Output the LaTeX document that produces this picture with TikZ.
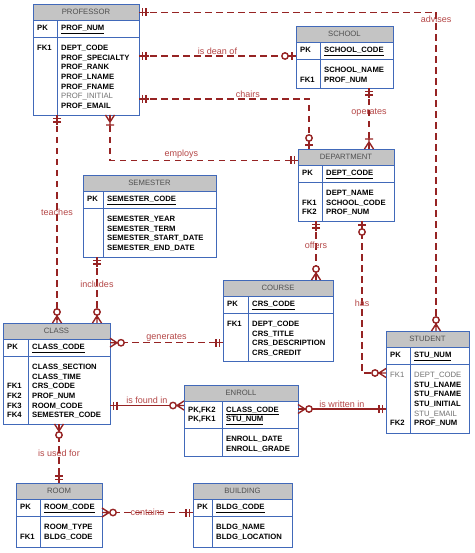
\documentclass[tikz,border=0pt]{standalone}
\usepackage{fontspec}
\setmainfont{Liberation Sans}
\usetikzlibrary{arrows,positioning}
\definecolor{erred}{RGB}{150,35,35}
\definecolor{erlabel}{RGB}{180,70,70}
\definecolor{erblue}{RGB}{65,105,185}
\definecolor{ergray}{RGB}{196,196,196}
\definecolor{ertitle}{RGB}{80,80,80}
\tikzstyle{erhead}=[draw=erblue,line width=0.9pt,fill=ergray,anchor=north west,minimum height=16.5,inner sep=0pt,outer sep=0pt,text=ertitle,font=\fontsize{7.7}{9.7}\selectfont]
\tikzstyle{erpart}=[draw=erblue,line width=0.9pt,fill=white,inner sep=0pt,outer sep=0pt]
\tikzstyle{erline}=[draw=erblue,line width=0.9pt]
\tikzstyle{ertext}=[inner sep=0pt,font=\fontsize{7.7}{9.7}\selectfont\bfseries]
\tikzstyle{rel}=[draw=erred,line width=1.4pt,dash pattern=on 6.5pt off 4.5pt]
\tikzstyle{idrel}=[draw=erred,line width=1.4pt]
\tikzstyle{verb}=[text=erlabel,font=\fontsize{9}{10}\selectfont,inner sep=1pt]
% crow's foot ends
\pgfarrowsdeclare{erone}{erone}
{\pgfarrowsleftextend{-10pt}\pgfarrowsrightextend{0pt}}
{\pgfsetdash{}{0pt}\pgfsetbuttcap
 \pgfpathmoveto{\pgfpoint{-10pt}{0pt}}\pgfpathlineto{\pgforigin}
 \pgfpathmoveto{\pgfpoint{-3.5pt}{-4pt}}\pgfpathlineto{\pgfpoint{-3.5pt}{4pt}}
 \pgfpathmoveto{\pgfpoint{-7pt}{-4pt}}\pgfpathlineto{\pgfpoint{-7pt}{4pt}}
 \pgfusepathqstroke}
\pgfarrowsdeclare{erzeroone}{erzeroone}
{\pgfarrowsleftextend{-15pt}\pgfarrowsrightextend{0pt}}
{\pgfsetdash{}{0pt}\pgfsetbuttcap
 \pgfpathmoveto{\pgfpoint{-8pt}{0pt}}\pgfpathlineto{\pgforigin}
 \pgfpathmoveto{\pgfpoint{-4pt}{-4pt}}\pgfpathlineto{\pgfpoint{-4pt}{4pt}}
 \pgfusepathqstroke
 \pgfsetfillcolor{white}
 \pgfpathcircle{\pgfpoint{-11pt}{0pt}}{3.2pt}
 \pgfusepathqfillstroke}
\pgfarrowsdeclare{eronemany}{eronemany}
{\pgfarrowsleftextend{-12pt}\pgfarrowsrightextend{0pt}}
{\pgfsetdash{}{0pt}\pgfsetbuttcap
 \pgfpathmoveto{\pgfpoint{-12pt}{0pt}}\pgfpathlineto{\pgforigin}
 \pgfpathmoveto{\pgfpoint{0pt}{4.5pt}}\pgfpathlineto{\pgfpoint{-7pt}{0pt}}\pgfpathlineto{\pgfpoint{0pt}{-4.5pt}}
 \pgfpathmoveto{\pgfpoint{-10pt}{-4pt}}\pgfpathlineto{\pgfpoint{-10pt}{4pt}}
 \pgfusepathqstroke}
\pgfarrowsdeclare{erzeromany}{erzeromany}
{\pgfarrowsleftextend{-15pt}\pgfarrowsrightextend{0pt}}
{\pgfsetdash{}{0pt}\pgfsetbuttcap
 \pgfpathmoveto{\pgfpoint{-8pt}{0pt}}\pgfpathlineto{\pgforigin}
 \pgfpathmoveto{\pgfpoint{0pt}{4.5pt}}\pgfpathlineto{\pgfpoint{-7pt}{0pt}}\pgfpathlineto{\pgfpoint{0pt}{-4.5pt}}
 \pgfusepathqstroke
 \pgfsetfillcolor{white}
 \pgfpathcircle{\pgfpoint{-11pt}{0pt}}{3.2pt}
 \pgfusepathqfillstroke}
\newcommand{\faded}[1]{\textcolor{ertitle!80}{\mdseries #1}}
\newcommand{\ertab}[2]{\begin{tabular}{@{}p{\dimexpr#1-4pt\relax}@{\hspace{4pt}}l@{}}#2\end{tabular}}
% name, position, width, key column, title, key height, body height, keys, attributes
\newcommand{\erentity}[9]{%
  \node[erhead,minimum width=#3] (#1-h) at #2 {#5};
  \node[erpart,minimum width=#3,minimum height=#6,below=0pt of #1-h] (#1-pk) {};
  \node[erpart,minimum width=#3,minimum height=#7,below=0pt of #1-pk] (#1-at) {};
  \draw[erline] ([xshift=#4]#1-pk.north west) -- ([xshift=#4]#1-at.south west);
  \node[ertext,anchor=west] at ([xshift=4pt]#1-pk.west) {\ertab{#4}{#8}};
  \node[ertext,anchor=north west] at ([xshift=4pt,yshift=-6.5pt]#1-at.north west) {\ertab{#4}{#9}};
}
\begin{document}
\begin{tikzpicture}[x=1pt,y=-1pt]
    \useasboundingbox (0,0) rectangle (474,553);
    % The entities
    \erentity{prof}{(33,4)}{106}{24pt}{PROFESSOR}{16.5}{78}
      {PK & \underline{PROF\_NUM}}
      {FK1 & DEPT\_CODE\\ & PROF\_SPECIALTY\\ & PROF\_RANK\\ & PROF\_LNAME\\ & PROF\_FNAME\\ & \faded{PROF\_INITIAL}\\ & PROF\_EMAIL}
    \erentity{sch}{(296,26)}{97}{24pt}{SCHOOL}{16.5}{29}
      {PK & \underline{SCHOOL\_CODE}}
      { & SCHOOL\_NAME\\ FK1 & PROF\_NUM}
    \erentity{dept}{(298,149)}{96}{24pt}{DEPARTMENT}{16.5}{39}
      {PK & \underline{DEPT\_CODE}}
      { & DEPT\_NAME\\ FK1 & SCHOOL\_CODE\\ FK2 & PROF\_NUM}
    \erentity{sem}{(83,175)}{133}{20pt}{SEMESTER}{16.5}{49}
      {PK & \underline{SEMESTER\_CODE}}
      { & SEMESTER\_YEAR\\ & SEMESTER\_TERM\\ & SEMESTER\_START\_DATE\\ & SEMESTER\_END\_DATE}
    \erentity{crs}{(223,280)}{110}{25pt}{COURSE}{16.5}{48}
      {PK & \underline{CRS\_CODE}}
      {FK1 & DEPT\_CODE\\ & CRS\_TITLE\\ & CRS\_DESCRIPTION\\ & CRS\_CREDIT}
    \erentity{cls}{(3,323)}{107}{25pt}{CLASS}{16.5}{68}
      {PK & \underline{CLASS\_CODE}}
      { & CLASS\_SECTION\\ & CLASS\_TIME\\ FK1 & CRS\_CODE\\ FK2 & PROF\_NUM\\ FK3 & ROOM\_CODE\\ FK4 & SEMESTER\_CODE}
    \erentity{enr}{(184,385)}{114}{38pt}{ENROLL}{27}{28}
      {PK,FK2 & \underline{CLASS\_CODE}\\ PK,FK1 & \underline{STU\_NUM}}
      { & ENROLL\_DATE\\ & ENROLL\_GRADE}
    \erentity{stu}{(386,331)}{83}{24pt}{STUDENT}{16.5}{69}
      {PK & \underline{STU\_NUM}}
      {\faded{FK1} & \faded{DEPT\_CODE}\\ & STU\_LNAME\\ & STU\_FNAME\\ & STU\_INITIAL\\ & \faded{STU\_EMAIL}\\ FK2 & PROF\_NUM}
    \erentity{room}{(16,483)}{86}{24pt}{ROOM}{16.5}{31}
      {PK & \underline{ROOM\_CODE}}
      { & ROOM\_TYPE\\ FK1 & BLDG\_CODE}
    \erentity{bldg}{(193,483)}{99}{19pt}{BUILDING}{16.5}{31}
      {PK & \underline{BLDG\_CODE}}
      { & BLDG\_NAME\\ & BLDG\_LOCATION}

    % The relationships
    \draw[rel,erone-erzeromany] (prof-h.east) -| ([xshift=8.5pt]stu-h.north) node[verb,pos=0.5,below=2pt] {advises};
    \draw[rel,erone-erzeroone] ([yshift=3pt]prof-at.east |- sch-pk.south) -- ([yshift=3pt]sch-pk.south west) node[verb,midway,above] {is dean of};
    \draw[rel,erone-erzeroone] ([yshift=16pt]prof-at.south east) -| ([xshift=11pt]dept-h.north west) node[verb,pos=0.32,above] {chairs};
    \draw[rel,erone-eronemany] ([xshift=73pt]sch-at.south west) -- ([xshift=73pt]sch-at.south west |- dept-h.north) node[verb,pos=0.4] {operates};
    \draw[rel,eronemany-erone] ([xshift=77pt]prof-at.south west) |- ([yshift=-3pt]dept-h.west) node[verb,pos=0.69,above] {employs};
    \draw[rel,erone-erzeromany] ([xshift=24pt]prof-at.south west) -- ([xshift=24pt]prof-at.south west |- cls-h.north) node[verb,pos=0.47] {teaches};
    \draw[rel,erone-erzeromany] ([xshift=14pt]sem-at.south west) -- ([xshift=14pt]sem-at.south west |- cls-h.north) node[verb,pos=0.41] {includes};
    \draw[rel,erone-erzeromany] ([xshift=18pt]dept-at.south west) -- ([xshift=18pt]dept-at.south west |- crs-h.north) node[verb,pos=0.41] {offers};
    \draw[rel,erzeroone-erzeromany] ([xshift=64pt]dept-at.south west) |- ([yshift=-9pt]stu-at.north west) node[verb,pos=0.27] {has};
    \draw[rel,erzeromany-erone] ([yshift=5pt]cls-pk.east) -- ([yshift=5pt]cls-pk.east -| crs-at.west) node[verb,midway,above] {generates};
    \draw[idrel,erone-erzeromany] ([yshift=-4pt]enr-pk.north west -| cls-at.east) -- ([yshift=-4pt]enr-pk.north west) node[verb,midway,above] {is found in};
    \draw[idrel,erzeromany-erone] ([yshift=-7.5pt]enr-pk.north east) -- ([yshift=-7.5pt]enr-pk.north east -| stu-at.west) node[verb,midway,above] {is written in};
    \draw[rel,erzeromany-erone] ([xshift=56pt]cls-at.south west) -- ([xshift=56pt]cls-at.south west |- room-h.north) node[verb,pos=0.49] {is used for};
    \draw[rel,erzeromany-erone] ([yshift=-13pt]room-pk.north east) -- ([yshift=-13pt]room-pk.north east -| bldg-pk.west) node[verb,midway] {contains};
\end{tikzpicture}
\end{document}
